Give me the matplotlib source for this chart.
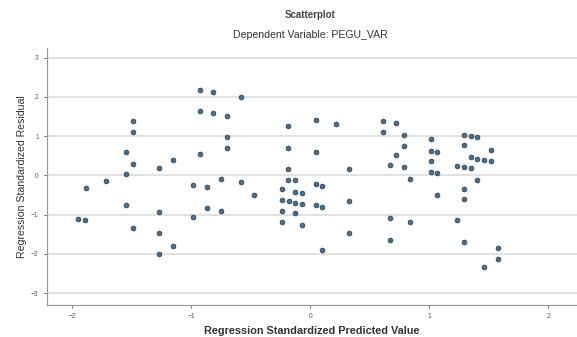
import numpy as np
import matplotlib.pyplot as plt

plt.rcParams["font.family"] = ["Liberation Sans", "DejaVu Sans"]

# Standardized predicted values (x) and standardized residuals (y)
pred = np.array([
    -1.947, -1.891, -1.885, -1.714, -1.546, -1.490, -1.490, -1.490, -1.546, -1.546,
    -1.490, -1.266, -1.149, -1.266, -1.266, -1.149, -1.266, -0.924, -0.813, -0.580,
    -0.924, -0.813, -0.695, -0.695, -0.695, -0.924, -0.752, -0.981, -0.868, -0.580,
    -0.469, -0.868, -0.752, -0.981,
    -0.189, 0.045, 0.213, -0.189, 0.045, -0.189, 0.328, -0.189, -0.126, -0.239,
    -0.126, -0.070, 0.045, 0.101, -0.239, -0.182, -0.126, -0.070, 0.045, 0.101,
    0.328, -0.239, -0.126, -0.239, -0.070, 0.328, 0.101,
    0.613, 0.723, 0.613, 0.784, 0.784, 0.723, 0.668, 0.784, 0.840, 0.668,
    0.840, 0.668, 1.010, 1.010, 1.067, 1.010, 1.010, 1.067, 1.067,
    1.294, 1.349, 1.403, 1.294, 1.518, 1.349, 1.403, 1.462, 1.518, 1.235,
    1.290, 1.349, 1.403, 1.294, 1.294, 1.235, 1.294, 1.574, 1.574, 1.462,
])
resid = np.array([
    -1.110, -1.135, -0.311, -0.133, 0.607, 1.390, 1.117, 0.301, 0.046, -0.760,
    -1.339, 0.184, 0.395, -0.931, -1.467, -1.798, -2.003, 2.181, 2.122, 2.010,
    1.645, 1.587, 1.526, 0.974, 0.702, 0.548, -0.089, -0.242, -0.301, -0.173,
    -0.510, -0.842, -0.911, -1.051,
    1.263, 1.408, 1.321, 0.709, 0.592, 0.166, 0.166, -0.112, -0.122, -0.339,
    -0.413, -0.446, -0.224, -0.260, -0.617, -0.651, -0.694, -0.727, -0.760, -0.804,
    -0.651, -0.898, -0.964, -1.179, -1.263, -1.467, -1.908,
    1.390, 1.332, 1.117, 1.026, 0.747, 0.510, 0.276, 0.209, -0.094, -1.092,
    -1.186, -1.645, 0.918, 0.633, 0.607, 0.362, 0.089, 0.064, -0.492,
    1.033, 1.008, 0.974, 0.765, 0.651, 0.459, 0.421, 0.395, 0.370, 0.242,
    0.209, 0.184, -0.115, -0.337, -0.607, -1.128, -1.704, -1.857, -2.130, -2.342,
])

x_ticks = [-2, -1, 0, 1, 2]
y_ticks = [-3, -2, -1, 0, 1, 2, 3]

fig = plt.figure(figsize=(5.77, 3.37), dpi=100)
ax = fig.add_axes([0.0815, 0.095, 0.9185, 0.763])

for yv in y_ticks:
    ax.axhline(yv, color="#dedede", linewidth=1.3, zorder=1)

ax.scatter(pred, resid, s=12, facecolor="#45708f", edgecolor="#26384a",
           linewidth=0.5, zorder=3)

ax.set_xlim(-2.21, 2.24)
ax.set_ylim(-3.30, 3.25)
ax.set_xticks(x_ticks)
ax.set_yticks(y_ticks)
ax.tick_params(labelsize=4.8, colors="#555555", length=2, width=0.6, pad=4)

for side in ("top", "right"):
    ax.spines[side].set_visible(False)
for side in ("left", "bottom"):
    ax.spines[side].set_color("#9a9a9a")
    ax.spines[side].set_linewidth(0.9)

ax.set_xlabel("Regression Standardized Predicted Value", fontsize=7.8,
              fontweight="bold", color="#333333", labelpad=4)
ax.set_ylabel("Regression Standardized Residual", fontsize=7.6,
              color="#333333", labelpad=3)

fig.text(0.5375, 0.955, "Scatterplot", ha="center", va="center",
         fontsize=7, fontweight="bold", color="#444444")
fig.text(0.5375, 0.895, "Dependent Variable: PEGU_VAR", ha="center",
         va="center", fontsize=7.6, color="#333333")

fig.savefig("out.png", dpi=100)
